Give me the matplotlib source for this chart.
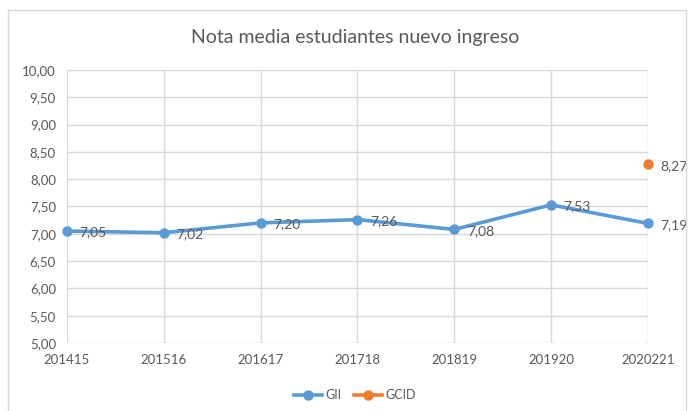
import numpy as np
import matplotlib.pyplot as plt
from matplotlib.patches import Rectangle

plt.rcParams['font.family'] = ['Lato', 'DejaVu Sans']

# Cursos académicos y notas medias
cursos = ["201415", "201516", "201617", "201718", "201819", "201920", "2020221"]
gii = [7.05, 7.02, 7.20, 7.26, 7.08, 7.53, 7.19]
gcid = [np.nan, np.nan, np.nan, np.nan, np.nan, np.nan, 8.27]

blue = "#5B9BD5"
orange = "#ED7D31"
grid_c = "#D9D9D9"
text_c = "#595959"

fig = plt.figure(figsize=(6.88, 4.11), dpi=100)
ax = fig.add_axes([67 / 688, 68 / 411, 581 / 688, 273 / 411])

x = np.arange(len(cursos))
ax.plot(x, gii, '-o', color=blue, lw=2.6, ms=6.5, label="GII", zorder=3, clip_on=False)
ax.plot(x, gcid, '-o', color=orange, lw=2.6, ms=6.5, label="GCID", zorder=3, clip_on=False)

# etiquetas de datos
for serie in (gii, gcid):
    for xi, v in zip(x, serie):
        if np.isnan(v):
            continue
        ax.annotate(f"{v:.2f}".replace(".", ","), (xi, v), xytext=(9, -1),
                    textcoords="offset points", ha="left", va="center",
                    fontsize=10, color=text_c, zorder=4, annotation_clip=False)

ax.set_xlim(0, len(cursos) - 1)
ax.set_ylim(5, 10)
yt = np.arange(5, 10.01, 0.5)
ax.set_yticks(yt)
ax.set_yticklabels([f"{t:.2f}".replace(".", ",") for t in yt])
ax.set_xticks(x)
ax.set_xticklabels(cursos)
ax.grid(True, color=grid_c, lw=1)
ax.set_axisbelow(True)
for s in ax.spines.values():
    s.set_visible(False)
ax.tick_params(length=0, labelsize=9.5, colors=text_c, pad=8)

fig.text(355 / 688, 1 - 38 / 411, "Nota media estudiantes nuevo ingreso",
         ha="center", va="center", fontsize=14, color=text_c)

leg = fig.legend(loc="center", bbox_to_anchor=(355 / 688, 1 - 395 / 411), ncol=2,
                 frameon=False, fontsize=9, handlelength=2.2, columnspacing=1.0,
                 handletextpad=0.3)
for t in leg.get_texts():
    t.set_color(text_c)

fig.patches.append(Rectangle((8 / 688, -0.05), 678 / 688, 1 - 10 / 411 + 0.05,
                             transform=fig.transFigure, fill=False,
                             edgecolor="#D9D9D9", lw=1))

plt.savefig("out.png", dpi=100)
